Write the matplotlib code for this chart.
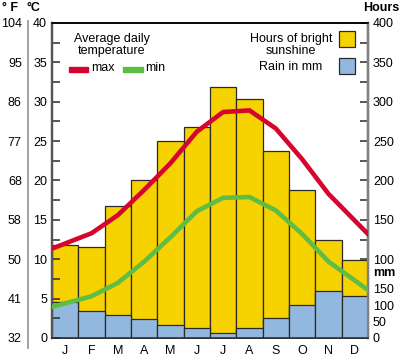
import matplotlib
matplotlib.use("Agg")
import matplotlib.pyplot as plt
from matplotlib.patches import Rectangle

plt.rcParams["font.family"] = ["Liberation Sans", "DejaVu Sans"]

# --- data ---
months = ["J", "F", "M", "A", "M", "J", "J", "A", "S", "O", "N", "D"]
sun_hours = [118, 116, 167, 200, 250, 268, 319, 304, 237, 188, 124, 99]
rain_mm = [111, 82, 69, 58, 41, 29, 16, 29, 60, 101, 142, 129]
t_max = [12.0, 13.3, 15.6, 18.8, 22.2, 26.2, 28.7, 28.9, 26.6, 22.7, 18.3, 14.9]
t_min = [4.4, 5.3, 7.0, 9.7, 12.8, 16.1, 17.8, 17.9, 16.2, 13.2, 9.7, 7.3]

c_ticks = [0, 5, 10, 15, 20, 25, 30, 35, 40]
f_labels = ["32", "41", "50", "58", "68", "77", "86", "95", "104"]
hour_ticks = [100, 150, 200, 250, 300, 350, 400]
mm_ticks = [0, 50, 100, 150]

MM_TO_HOURS = 62.5 / 150  # rain scale drawn in the hours axis units

YELLOW = "#f5d200"
BLUE = "#93b8e0"
RED = "#d5052e"
GREEN = "#5fbd45"
EDGE = "#2a2a2a"


def extend(vals):
    # carry the line half a month past the first and last points
    x = [-0.5] + list(range(len(vals))) + [len(vals) - 0.5]
    y = [vals[0] - (vals[1] - vals[0]) / 2] + list(vals) + [vals[-1] + (vals[-1] - vals[-2]) / 2]
    return x, y


fig = plt.figure(figsize=(4.0, 3.58), dpi=100)
W, H = 400.0, 358.0
ax = fig.add_axes([52 / W, 1 - 338 / H, 316 / W, 315 / H])
tw = ax.twinx()

xs = range(len(months))
ax.bar(xs, sun_hours, width=1.0, color=YELLOW, edgecolor=EDGE, linewidth=0.9, zorder=2)
ax.bar(xs, [r * MM_TO_HOURS for r in rain_mm], width=1.0, color=BLUE,
       edgecolor=EDGE, linewidth=0.9, zorder=3)
ax.set_xlim(-0.5, 11.5)
ax.set_ylim(0, 400)
ax.set_xticks(list(xs), months)
ax.tick_params(axis="x", length=0, pad=5, labelsize=9)

ax.yaxis.tick_right()
ax.set_yticks(hour_ticks)
ax.set_yticks([75 + 50 * i for i in range(7)], minor=True)
ax.tick_params(axis="y", which="both", direction="in", length=6, width=1.1,
               color=EDGE, pad=3.5, labelsize=9)

sec_mm = ax.secondary_yaxis("right", functions=(lambda h: h / MM_TO_HOURS,
                                                lambda m: m * MM_TO_HOURS))
sec_mm.set_yticks(mm_ticks)
sec_mm.set_yticks([25, 75, 125], minor=True)
sec_mm.tick_params(which="both", direction="in", length=6, width=1.1,
                   color=EDGE, pad=3.5, labelsize=9)
sec_mm.spines["right"].set_color("#808080")
sec_mm.spines["right"].set_linewidth(1.6)

tw.set_ylim(0, 40)
x, y = extend(t_max)
tw.plot(x, y, color=RED, lw=3.3, solid_joinstyle="miter", zorder=5)
x, y = extend(t_min)
tw.plot(x, y, color=GREEN, lw=3.3, solid_joinstyle="miter", zorder=5)
tw.yaxis.tick_left()
tw.set_yticks(c_ticks)
tw.set_yticks([2.5 + 5 * i for i in range(8)], minor=True)
tw.tick_params(axis="y", which="both", direction="in", length=6, width=1.1,
               color=EDGE, pad=3.5, labelsize=9)

sec_f = tw.secondary_yaxis(-24 / 316)
sec_f.set_yticks(c_ticks, labels=f_labels)
sec_f.tick_params(length=0, pad=4.5, labelsize=9)
sec_f.spines["left"].set_color("#9a9a9a")
sec_f.spines["left"].set_linewidth(1.3)
sec_f.spines["left"].set_bounds(-1.3, 40.2)

for a in (ax, tw):
    a.spines["top"].set_color("black")
    a.spines["top"].set_linewidth(1.1)
    a.spines["bottom"].set_color(EDGE)
    a.spines["bottom"].set_linewidth(1.1)
    a.spines["left"].set_color("#555555")
    a.spines["left"].set_linewidth(1.6)
    a.spines["right"].set_color("#808080")
    a.spines["right"].set_linewidth(1.6)

# axis headers
fig.text(10 / W, 1 - 8 / H, "° F", ha="center", va="center", fontsize=9, fontweight="bold")
fig.text(33 / W, 1 - 8 / H, "°C", ha="center", va="center", fontsize=9, fontweight="bold")
fig.text(381 / W, 1 - 8 / H, "Hours", ha="center", va="center", fontsize=9, fontweight="bold")
fig.text(384 / W, 1 - 273 / H, "mm", ha="center", va="center", fontsize=9, fontweight="bold")

# temperature legend
fig.text(112 / W, 1 - 45 / H, "Average daily\ntemperature", ha="center", va="center",
         fontsize=9, linespacing=1.0)
fig.add_artist(Rectangle((69 / W, 1 - 71.5 / H), 19 / W, 4.5 / H, color=RED,
                         transform=fig.transFigure))
fig.text(91 / W, 1 - 68 / H, "max", ha="left", va="center", fontsize=9)
fig.add_artist(Rectangle((123 / W, 1 - 71.5 / H), 20 / W, 4.5 / H, color=GREEN,
                         transform=fig.transFigure))
fig.text(145 / W, 1 - 68 / H, "min", ha="left", va="center", fontsize=9)

# bar legend
fig.text(291 / W, 1 - 45 / H, "Hours of bright\nsunshine", ha="center", va="center",
         fontsize=9, linespacing=1.0)
fig.text(291 / W, 1 - 67 / H, "Rain in mm", ha="center", va="center", fontsize=9)
fig.add_artist(Rectangle((339 / W, 1 - 47 / H), 16 / W, 16 / H, facecolor=YELLOW,
                         edgecolor=EDGE, lw=0.9, transform=fig.transFigure))
fig.add_artist(Rectangle((339 / W, 1 - 73.5 / H), 16 / W, 15 / H, facecolor=BLUE,
                         edgecolor=EDGE, lw=0.9, transform=fig.transFigure))

fig.savefig("out.png", dpi=100, facecolor="white")
